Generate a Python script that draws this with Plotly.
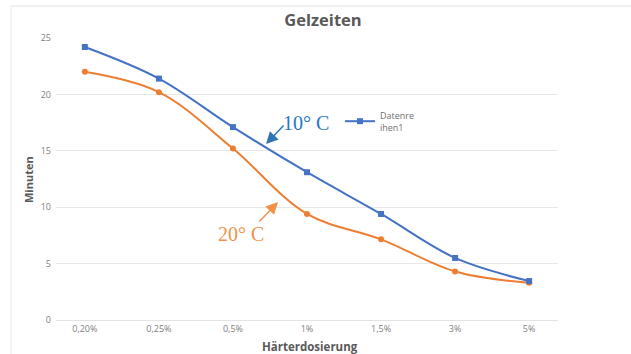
import plotly.graph_objects as go

categories = ["0,20%", "0,25%", "0,5%", "1%", "1,5%", "3%", "5%"]
series_10c = [24.2, 21.4, 17.1, 13.1, 9.4, 5.5, 3.45]
series_20c = [22.0, 20.2, 15.2, 9.4, 7.15, 4.3, 3.3]
y_ticks = [0, 5, 10, 15, 20, 25]

BLUE = "#4472C4"
ORANGE = "#ED7D31"
GRAY = "#595959"

fig = go.Figure()
fig.add_trace(go.Scatter(
    x=categories, y=series_20c, mode="lines+markers", name="20° C",
    line=dict(color=ORANGE, width=2, shape="spline", smoothing=1),
    marker=dict(symbol="circle", size=6, color=ORANGE),
    showlegend=False,
))
fig.add_trace(go.Scatter(
    x=categories, y=series_10c, mode="lines+markers", name="Datenre<br>ihen1",
    line=dict(color=BLUE, width=2, shape="spline", smoothing=1),
    marker=dict(symbol="square", size=6, color=BLUE),
    showlegend=True,
))

W, H = 631, 354
L, R, T, B = 56, 558, 38, 320

def px(xp):
    return (xp - L) / (R - L)

def py(yp):
    return (B - yp) / (B - T)

fig.update_layout(
    width=W, height=H,
    margin=dict(l=L, r=W - R, t=T, b=H - B),
    paper_bgcolor="white", plot_bgcolor="white",
    font=dict(family="Open Sans, Liberation Sans, sans-serif", color=GRAY),
    title=dict(text="<b>Gelzeiten</b>", x=px(323), xref="paper", xanchor="center",
               y=1 - 20 / H, yanchor="middle",
               font=dict(size=16.5, color=GRAY)),
    xaxis=dict(type="category", categoryorder="array", categoryarray=categories,
               showgrid=False, showline=True, linecolor="#e3e3e3", linewidth=1,
               ticks="", tickfont=dict(size=9, color="#808080"), zeroline=False),
    yaxis=dict(range=[0, 25], tickvals=y_ticks, showgrid=True, gridcolor="#e8e8e8",
               gridwidth=1, zeroline=False, showline=False, ticks="",
               tickfont=dict(size=9, color="#808080"), ticklabelstandoff=4),
    legend=dict(x=px(340), y=py(103), xanchor="left", yanchor="top",
                bgcolor="rgba(0,0,0,0)", font=dict(size=9, color="#707070"),
                itemwidth=30, tracegroupgap=0),
    showlegend=True,
)

annotations = [
    dict(text="<b>Minuten</b>", x=px(28), y=py(180), xref="paper", yref="paper",
         xanchor="center", yanchor="middle",
         showarrow=False, textangle=-90, font=dict(size=11, color=GRAY)),
    dict(text="<b>Härterdosierung</b>", x=px(310), y=py(346), xref="paper", yref="paper",
         xanchor="center", yanchor="middle",
         showarrow=False, font=dict(size=11.5, color=GRAY)),
    dict(text="10° C", x=px(306), y=py(123), xref="paper", yref="paper",
         xanchor="center", yanchor="middle",
         showarrow=False, font=dict(size=20, color="#2478C6",
                                    family="Liberation Serif, DejaVu Serif, serif")),
    dict(text="20° C", x=px(241), y=py(234), xref="paper", yref="paper",
         xanchor="center", yanchor="middle",
         showarrow=False, font=dict(size=20, color="#F39147",
                                    family="Liberation Serif, DejaVu Serif, serif")),
    dict(text="", x=px(266), y=py(144), xref="paper", yref="paper",
         showarrow=True, ax=19, ay=-20, arrowhead=2, arrowsize=1.6, arrowwidth=1.5,
         arrowcolor="#2E75B6"),
    dict(text="", x=px(278), y=py(202), xref="paper", yref="paper",
         showarrow=True, ax=-20, ay=21, arrowhead=2, arrowsize=1.6, arrowwidth=1.5,
         arrowcolor="#F39147"),
]
fig.update_layout(annotations=annotations)

fig.add_shape(type="line", xref="paper", yref="paper", x0=px(11), x1=px(640),
              y0=py(6), y1=py(6), line=dict(color="#ececec", width=1.5))
fig.add_shape(type="line", xref="paper", yref="paper", x0=px(11), x1=px(11),
              y0=py(6), y1=py(360), line=dict(color="#f0f0f0", width=1.5))

fig.write_html("out.html",
               config={"displayModeBar": False},
               post_script="document.body.style.margin='0';document.body.style.overflow='hidden';")
